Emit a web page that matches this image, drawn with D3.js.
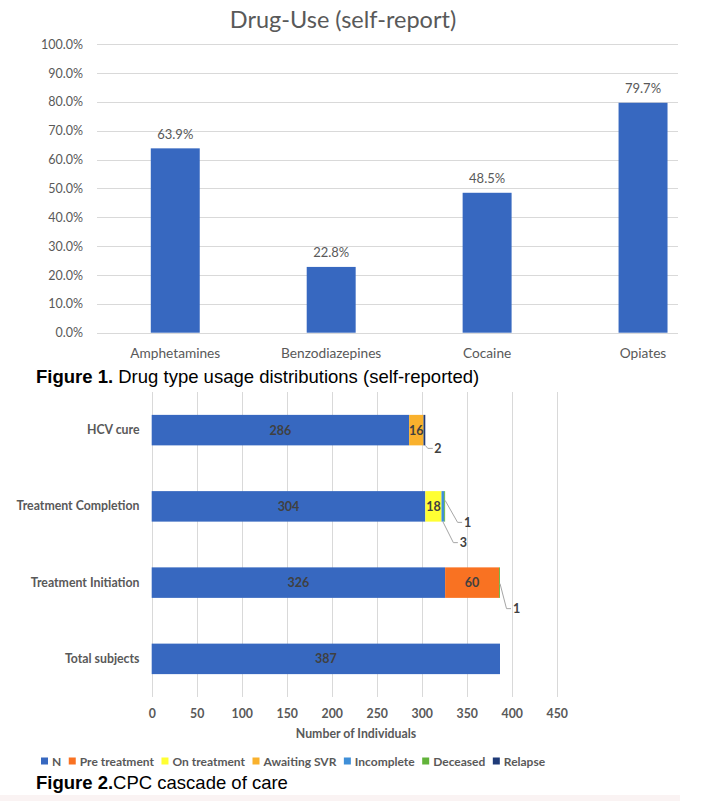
<!DOCTYPE html>
<html>
<head>
<meta charset="utf-8">
<script src="https://cdn.jsdelivr.net/npm/d3@7"></script>
<style>
  html, body { margin: 0; padding: 0; background: #ffffff; }
  svg { display: block; }
</style>
</head>
<body>
<script>
// ---------- Figure 1 data ----------
const drugCategories = ["Amphetamines", "Benzodiazepines", "Cocaine", "Opiates"];
const drugValues = [63.9, 22.8, 48.5, 79.7];
const drugTicks = [0, 10, 20, 30, 40, 50, 60, 70, 80, 90, 100];
const drugTitle = "Drug-Use (self-report)";

// ---------- Figure 2 data ----------
const stages = ["HCV cure", "Treatment Completion", "Treatment Initiation", "Total subjects"];
const seriesNames = ["N", "Pre treatment", "On treatment", "Awaiting SVR", "Incomplete", "Deceased", "Relapse"];
const seriesN = [286, 304, 326, 387];
const seriesPre = [0, 0, 60, 0];
const seriesOn = [0, 18, 0, 0];
const seriesAwaiting = [16, 0, 0, 0];
const seriesIncomplete = [0, 3, 0, 0];
const seriesDeceased = [0, 1, 1, 0];
const seriesRelapse = [2, 0, 0, 0];
const cascadeTicks = [0, 50, 100, 150, 200, 250, 300, 350, 400, 450];
const cascadeAxisTitle = "Number of Individuals";

const W = 715, H = 801;
const svg = d3.select("body").append("svg").attr("width", W).attr("height", H);
const GRID = "#d9d9d9", TXT = "#595959", LBL = "#404040";
const colors = {
  "N": "#3768c0",
  "Pre treatment": "#f97222",
  "On treatment": "#ffff33",
  "Awaiting SVR": "#f9b12d",
  "Incomplete": "#3f8fd8",
  "Deceased": "#62b33a",
  "Relapse": "#1f3b78"
};
const FONT = "Lato, 'Open Sans', sans-serif";
const FS2 = 12.3;

// =================== Figure 1 ===================
const g1 = svg.append("g");
const x1 = d3.scaleBand().domain(drugCategories).range([97.3, 721]).paddingInner(0.686).paddingOuter(0.343);
const y1 = d3.scaleLinear().domain([0, 100]).range([332.7, 44.2]);

g1.append("text").attr("x", 343).attr("y", 27.5).attr("text-anchor", "middle")
  .attr("font-family", FONT).attr("font-size", 23.5).attr("fill", TXT).text(drugTitle);

const yAxis1 = d3.axisLeft(y1).tickValues(drugTicks).tickSize(0).tickPadding(0)
  .tickFormat(d => d.toFixed(1) + "%");
const ya = g1.append("g").attr("transform", "translate(83,0)").call(yAxis1);
ya.select(".domain").remove();
ya.selectAll("text").attr("font-family", FONT).attr("font-size", 12.5).attr("fill", TXT);

g1.append("g").selectAll("line").data(drugTicks).join("line")
  .attr("x1", 97).attr("x2", 678)
  .attr("y1", d => Math.round(y1(d)) + 0.5).attr("y2", d => Math.round(y1(d)) + 0.5)
  .attr("stroke", GRID).attr("stroke-width", 1);

g1.append("g").selectAll("rect").data(drugValues).join("rect")
  .attr("x", (d, i) => x1(drugCategories[i]))
  .attr("width", x1.bandwidth())
  .attr("y", d => y1(d))
  .attr("height", d => y1(0) - y1(d))
  .attr("fill", colors["N"]);

g1.append("g").selectAll("text").data(drugValues).join("text")
  .attr("x", (d, i) => x1(drugCategories[i]) + x1.bandwidth() / 2)
  .attr("y", d => y1(d) - 9.5)
  .attr("text-anchor", "middle").attr("font-family", FONT).attr("font-size", 13)
  .attr("fill", TXT).text(d => d.toFixed(1) + "%");

const xAxis1 = d3.axisBottom(x1).tickSize(0).tickPadding(0);
const xa = g1.append("g").attr("transform", "translate(0,348)").call(xAxis1);
xa.select(".domain").remove();
xa.selectAll("text").attr("font-family", FONT).attr("font-size", 13.7).attr("fill", TXT).attr("dy", "0.71em");

// caption 1
const cap1 = svg.append("text").attr("x", 36).attr("y", 383)
  .attr("font-family", "'Liberation Sans', Arial, sans-serif").attr("font-size", 18.5).attr("fill", "#000");
cap1.append("tspan").attr("font-weight", "bold").text("Figure 1.");
cap1.append("tspan").text(" Drug type usage distributions (self-reported)");

// =================== Figure 2 ===================
const g2 = svg.append("g");
const x2 = d3.scaleLinear().domain([0, 450]).range([151.7, 556.7]);
const y2 = d3.scaleBand().domain(stages).range([392, 697]).paddingInner(0.6).paddingOuter(0.3);

g2.append("g").selectAll("line").data(cascadeTicks).join("line")
  .attr("x1", d => Math.round(x2(d)) + 0.5).attr("x2", d => Math.round(x2(d)) + 0.5)
  .attr("y1", 392).attr("y2", 697).attr("stroke", GRID).attr("stroke-width", 1);

const table = stages.map((s, i) => ({
  stage: s,
  "N": seriesN[i], "Pre treatment": seriesPre[i], "On treatment": seriesOn[i],
  "Awaiting SVR": seriesAwaiting[i], "Incomplete": seriesIncomplete[i],
  "Deceased": seriesDeceased[i], "Relapse": seriesRelapse[i]
}));
const stacked = d3.stack().keys(seriesNames)(table);

stacked.forEach(layer => {
  g2.append("g").selectAll("rect").data(layer.filter(d => d[1] - d[0] > 0)).join("rect")
    .attr("x", d => x2(d[0]))
    .attr("width", d => x2(d[1]) - x2(d[0]))
    .attr("y", d => y2(d.data.stage))
    .attr("height", y2.bandwidth())
    .attr("fill", colors[layer.key]);
});

// inside labels
stacked.forEach(layer => {
  g2.append("g").selectAll("text").data(layer.filter(d => d[1] - d[0] >= 10)).join("text")
    .attr("x", d => (x2(d[0]) + x2(d[1])) / 2)
    .attr("y", d => y2(d.data.stage) + y2.bandwidth() / 2 + 4.5)
    .attr("text-anchor", "middle").attr("font-family", FONT).attr("font-weight", "bold")
    .attr("font-size", 12.5).attr("fill", LBL).text(d => d.data[layer.key]);
});

// leader-line labels for small segments
const leaders = [
  { stage: "HCV cure", key: "Relapse", sx: "end", sy: "bottom", dx: [0, 2.5, 7.5], dy: [0, 3, 3], lx: 9 },
  { stage: "Treatment Completion", key: "Deceased", sx: "end", sy: -6, dx: [0, 12.5, 17], dy: [0, 22, 22], lx: 19 },
  { stage: "Treatment Completion", key: "Incomplete", sx: "mid", sy: "bottom", dx: [0, 10.5, 15], dy: [0, 21, 21], lx: 17 },
  { stage: "Treatment Initiation", key: "Deceased", sx: "end", sy: 1, dx: [0, 6.5, 11], dy: [0, 25, 25], lx: 13 }
];
leaders.forEach(L => {
  const layer = stacked.find(l => l.key === L.key);
  const d = layer.find(v => v.data.stage === L.stage);
  const xs = L.sx === "end" ? x2(d[1]) : (x2(d[0]) + x2(d[1])) / 2;
  const yc = y2(L.stage) + y2.bandwidth() / 2;
  const ys = L.sy === "bottom" ? y2(L.stage) + y2.bandwidth() : yc + L.sy;
  const pts = L.dx.map((dx, k) => [xs + dx, ys + L.dy[k]]);
  g2.append("path").attr("d", d3.line()(pts)).attr("fill", "none")
    .attr("stroke", "#a6a6a6").attr("stroke-width", 1);
  g2.append("text").attr("x", xs + L.lx).attr("y", ys + L.dy[2] + 4.5)
    .attr("font-family", FONT).attr("font-weight", "bold").attr("font-size", 12.5)
    .attr("fill", LBL).text(d.data[L.key]);
});

// category axis
const yAxis2 = d3.axisLeft(y2).tickSize(0).tickPadding(0);
const ya2 = g2.append("g").attr("transform", "translate(139.5,0)").call(yAxis2);
ya2.select(".domain").remove();
ya2.selectAll("text").attr("font-family", FONT).attr("font-weight", "bold").attr("font-size", FS2).attr("fill", TXT);

// value axis
const xAxis2 = d3.axisBottom(x2).tickValues(cascadeTicks).tickSize(0).tickPadding(0);
const xa2 = g2.append("g").attr("transform", "translate(0,709)").call(xAxis2);
xa2.select(".domain").remove();
xa2.selectAll("text").attr("font-family", FONT).attr("font-weight", "bold").attr("font-size", FS2).attr("fill", TXT);

g2.append("text").attr("x", 356).attr("y", 737.5).attr("text-anchor", "middle")
  .attr("font-family", FONT).attr("font-weight", "bold").attr("font-size", FS2).attr("fill", TXT)
  .text(cascadeAxisTitle);

// legend
const leg = g2.append("g");
let lx = 41;
seriesNames.forEach(name => {
  leg.append("rect").attr("x", lx).attr("y", 757.5).attr("width", 7).attr("height", 7).attr("fill", colors[name]);
  const t = leg.append("text").attr("x", lx + 11).attr("y", 765.5)
    .attr("font-family", FONT).attr("font-weight", "bold").attr("font-size", 12).attr("fill", TXT).text(name);
  lx += 11 + t.node().getComputedTextLength() + 7.5;
});

// caption 2
svg.append("rect").attr("x", 0).attr("y", 795).attr("width", 680).attr("height", 6).attr("fill", "#faf3f3");
const cap2 = svg.append("text").attr("x", 36).attr("y", 789)
  .attr("font-family", "'Liberation Sans', Arial, sans-serif").attr("font-size", 18.5).attr("fill", "#000");
cap2.append("tspan").attr("font-weight", "bold").text("Figure 2.");
cap2.append("tspan").text("CPC cascade of care");
</script>
</body>
</html>
